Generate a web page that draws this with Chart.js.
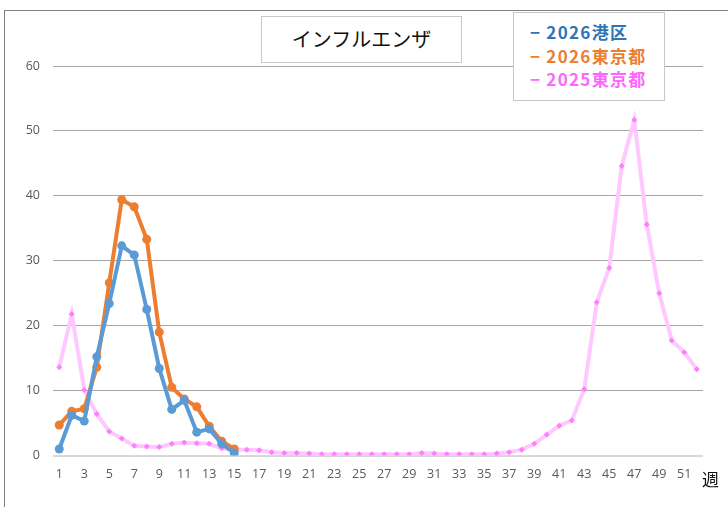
<!DOCTYPE html>
<html lang="ja">
<head>
<meta charset="utf-8">
<script src="https://cdn.jsdelivr.net/npm/chart.js@4/dist/chart.umd.min.js"></script>
<style>
    html, body { margin: 0; padding: 0; background: #fff; }
    #wrap { position: relative; width: 728px; height: 507px; overflow: hidden; }
    #frame { position: absolute; left: 4px; top: 10px; width: 740px; height: 520px;
             border-left: 1.5px solid #808080; border-top: 1.5px solid #808080; }
    canvas { position: absolute; left: 0; top: 0; }
    .box { position: absolute; background: #fff; border: 1.5px solid #c8c8c8; box-sizing: border-box; }
    #titleBox { left: 261px; top: 16px; width: 201px; height: 47px; font: 20px "Noto Sans CJK JP", sans-serif;
                color: #111; text-align: center; line-height: 44px; }
    #legendBox { left: 513px; top: 12px; width: 152px; height: 89px; padding: 7px 0 0 16px;
                 font: bold 17px "Noto Sans CJK JP", sans-serif; line-height: 23.5px; letter-spacing: 1.3px; }
    #legendBox span { margin-right: 5px; }
    #unit { position: absolute; left: 702px; top: 466px; font: 17px "Noto Sans CJK JP", sans-serif; color: #111; }
</style>
</head>
<body>
<div id="wrap">
    <div id="frame"></div>
    <canvas id="fluChart" width="728" height="507"></canvas>
    <div id="titleBox" class="box">インフルエンザ</div>
    <div id="legendBox" class="box"></div>
    <div id="unit">週</div>
</div>
<script>
// weeks 1..52
const weeks = [];
for (let w = 1; w <= 52; w++) weeks.push(String(w));

const seriesNames = ['2026港区', '2026東京都', '2025東京都'];
const seriesColors = ['#2E75B6', '#ED7D31', '#FF66FF'];

const minato2026 = [1.0, 6.2, 5.3, 15.2, 23.4, 32.3, 30.9, 22.5, 13.4, 7.1, 8.5, 3.6, 4.1, 1.8, 0.4];
const tokyo2026 = [4.7, 6.8, 7.2, 13.6, 26.6, 39.4, 38.3, 33.3, 19.0, 10.5, 8.7, 7.5, 4.5, 2.2, 1.0];
const tokyo2025 = [13.6, 21.8, 10.1, 6.4, 3.7, 2.6, 1.5, 1.4, 1.3, 1.8,
                   2.0, 1.9, 1.8, 1.1, 0.9, 0.9, 0.8, 0.5, 0.4, 0.4,
                   0.3, 0.2, 0.2, 0.2, 0.2, 0.2, 0.2, 0.2, 0.2, 0.4,
                   0.3, 0.2, 0.2, 0.2, 0.2, 0.3, 0.5, 0.9, 1.8, 3.2,
                   4.6, 5.4, 10.2, 23.6, 28.9, 44.6, 51.7, 35.6, 25.0, 17.7,
                   15.9, 13.3];

const yTicks = [0, 10, 20, 30, 40, 50, 60];

// legend (html)
const legendBox = document.getElementById('legendBox');
seriesNames.forEach((n, i) => {
    const d = document.createElement('div');
    d.style.color = seriesColors[i];
    const dash = document.createElement('span');
    dash.textContent = '\u2212';
    d.appendChild(dash);
    d.appendChild(document.createTextNode(n));
    legendBox.appendChild(d);
});

const tickFont = { family: '"Open Sans", "Noto Sans", sans-serif', size: 12.5 };

new Chart(document.getElementById('fluChart'), {
    type: 'line',
    data: {
        labels: weeks,
        datasets: [
            {
                label: seriesNames[0],
                data: minato2026,
                borderColor: '#5B9BD5',
                backgroundColor: '#5B9BD5',
                borderWidth: 4,
                pointRadius: 4.5,
                pointBorderWidth: 0,
                pointBackgroundColor: '#5B9BD5',
                tension: 0
            },
            {
                label: seriesNames[1],
                data: tokyo2026,
                borderColor: '#ED7D31',
                backgroundColor: '#ED7D31',
                borderWidth: 4,
                pointRadius: 4.5,
                pointBorderWidth: 0,
                pointBackgroundColor: '#ED7D31',
                tension: 0
            },
            {
                label: seriesNames[2],
                data: tokyo2025,
                borderColor: '#FFC8FF',
                backgroundColor: '#FF7DFF',
                borderWidth: 4,
                pointStyle: 'rectRot',
                pointRadius: 3,
                pointBorderWidth: 0,
                pointBackgroundColor: '#FF7DFF',
                tension: 0
            }
        ]
    },
    options: {
        responsive: false,
        animation: false,
        events: [],
        layout: { padding: { left: 0, top: 66, right: 25, bottom: 21.5 } },
        plugins: {
            legend: { display: false },
            title: { display: false },
            tooltip: { enabled: false }
        },
        scales: {
            x: {
                offset: true,
                grid: { display: false, drawTicks: false },
                border: { display: false },
                afterFit: function (s) { s.height = 30; },
                ticks: {
                    autoSkip: false,
                    maxRotation: 0,
                    padding: 11,
                    color: '#595959',
                    font: tickFont,
                    callback: function (v, i) { return i % 2 === 0 ? weeks[i] : ''; }
                }
            },
            y: {
                min: 0,
                max: 60,
                afterFit: function (s) { s.width = 53; },
                afterBuildTicks: function (s) { s.ticks = yTicks.map(v => ({ value: v })); },
                grid: {
                    drawTicks: false,
                    color: c => c.tick.value === 0 ? '#D9D9D9' : '#A6A6A6',
                    lineWidth: c => c.tick.value === 0 ? 2 : 1
                },
                border: { display: false },
                ticks: { padding: 13, color: '#595959', font: tickFont }
            }
        }
    }
});
</script>
</body>
</html>
